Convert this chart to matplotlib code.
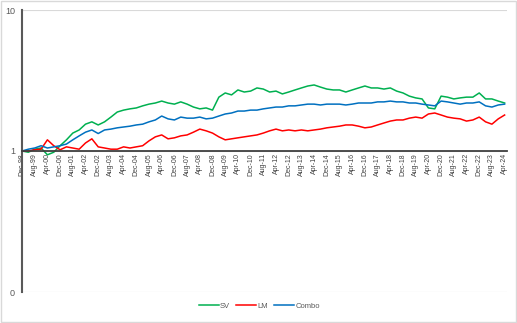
import matplotlib
matplotlib.use("Agg")
import matplotlib.pyplot as plt
from matplotlib.patches import Rectangle
from matplotlib.ticker import FixedLocator, FixedFormatter, NullLocator
import numpy as np

# values read every 4 months, Dec-98 .. Apr-24
sv = [1.00, 0.98, 1.03, 1.05, 0.94, 0.98, 1.09, 1.20, 1.34, 1.41,
      1.55, 1.61, 1.53, 1.61, 1.74, 1.89, 1.95, 1.99, 2.02, 2.09,
      2.15, 2.19, 2.26, 2.19, 2.15, 2.23, 2.15, 2.05, 1.99, 2.02,
      1.95, 2.41, 2.58, 2.50, 2.71, 2.62, 2.66, 2.80, 2.75, 2.62,
      2.66, 2.54, 2.62, 2.71, 2.80, 2.89, 2.94, 2.84, 2.75, 2.71,
      2.71, 2.62, 2.71, 2.80, 2.89, 2.80, 2.80, 2.75, 2.80, 2.66,
      2.58, 2.45, 2.38, 2.34, 2.02, 1.99, 2.45, 2.41, 2.34, 2.38,
      2.41, 2.41, 2.58, 2.34, 2.34, 2.26, 2.19]
lm = [1.00, 1.00, 1.02, 1.03, 1.20, 1.09, 1.02, 1.07, 1.05, 1.03,
      1.14, 1.22, 1.07, 1.05, 1.03, 1.03, 1.07, 1.05, 1.07, 1.09,
      1.18, 1.26, 1.30, 1.22, 1.24, 1.28, 1.30, 1.36, 1.43, 1.39,
      1.34, 1.26, 1.20, 1.22, 1.24, 1.26, 1.28, 1.30, 1.34, 1.39,
      1.43, 1.39, 1.41, 1.39, 1.41, 1.39, 1.41, 1.43, 1.46, 1.48,
      1.50, 1.53, 1.53, 1.50, 1.46, 1.48, 1.53, 1.58, 1.63, 1.66,
      1.66, 1.71, 1.74, 1.71, 1.83, 1.86, 1.80, 1.74, 1.71, 1.69,
      1.63, 1.66, 1.74, 1.61, 1.55, 1.69, 1.80]
combo = [1.00, 1.03, 1.05, 1.09, 1.05, 1.07, 1.09, 1.12, 1.20, 1.28,
         1.36, 1.41, 1.33, 1.41, 1.43, 1.46, 1.48, 1.50, 1.53, 1.55,
         1.61, 1.66, 1.77, 1.69, 1.66, 1.74, 1.71, 1.71, 1.74, 1.69,
         1.71, 1.77, 1.83, 1.86, 1.92, 1.92, 1.95, 1.95, 1.99, 2.02,
         2.05, 2.05, 2.09, 2.09, 2.12, 2.15, 2.15, 2.12, 2.15, 2.15,
         2.15, 2.12, 2.15, 2.19, 2.19, 2.19, 2.23, 2.23, 2.26, 2.23,
         2.23, 2.19, 2.19, 2.15, 2.12, 2.09, 2.26, 2.23, 2.19, 2.15,
         2.19, 2.19, 2.23, 2.09, 2.05, 2.12, 2.15]

tick_labels = ["Dec-98", "Aug-99", "Apr-00", "Dec-00", "Aug-01", "Apr-02", "Dec-02",
               "Aug-03", "Apr-04", "Dec-04", "Aug-05", "Apr-06", "Dec-06", "Aug-07",
               "Apr-08", "Dec-08", "Aug-09", "Apr-10", "Dec-10", "Aug-11", "Apr-12",
               "Dec-12", "Aug-13", "Apr-14", "Dec-14", "Aug-15", "Apr-16", "Dec-16",
               "Aug-17", "Apr-18", "Dec-18", "Aug-19", "Apr-20", "Dec-20", "Aug-21",
               "Apr-22", "Dec-22", "Aug-23", "Apr-24"]

x = np.arange(len(sv)) * 4  # month index from Dec-98

plt.rcParams['font.family'] = ['Liberation Sans', 'DejaVu Sans']

fig = plt.figure(figsize=(5.17, 3.23), dpi=100)
ax = fig.add_axes([22 / 517, 1 - 292 / 323, 485 / 517, 282 / 323])

ax.plot(x, sv, color='#00B050', lw=1.1, label='SV')
ax.plot(x, lm, color='#FF0000', lw=1.1, label='LM')
ax.plot(x, combo, color='#0070C0', lw=1.1, label='Combo')

ax.set_yscale('log')
ax.set_ylim(0.1, 10)

# spine position first: it resets tick settings
for s in ['top', 'right']:
    ax.spines[s].set_visible(False)
ax.spines['bottom'].set_position(('data', 1))
ax.spines['bottom'].set_color('#404040')
ax.spines['bottom'].set_linewidth(1.3)
ax.spines['left'].set_color('#595959')
ax.spines['left'].set_linewidth(1.5)

ax.yaxis.set_major_locator(FixedLocator([0.1, 1, 10]))
ax.yaxis.set_major_formatter(FixedFormatter(['0', '1', '10']))
ax.yaxis.set_minor_locator(NullLocator())
ax.set_xlim(0, 305.5)
ax.set_xticks(np.arange(len(tick_labels)) * 8)
ax.set_xticklabels(tick_labels, rotation=90, fontsize=5, color='#404040')
ax.tick_params(axis='x', length=0, pad=1.5)
ax.tick_params(axis='y', length=0, pad=5, labelsize=6.5, labelcolor='#595959')

ax.grid(axis='y', color='#D9D9D9', lw=0.8)
ax.set_axisbelow(True)

fig.legend(loc='center', bbox_to_anchor=(0.502, 0.053), ncol=3, frameon=False,
           fontsize=5.5, handlelength=2.6, columnspacing=0.8, handletextpad=0.2,
           labelcolor='#595959')

fig.add_artist(Rectangle((0.001, 0.002), 0.997, 0.996, transform=fig.transFigure,
                         fill=False, edgecolor='#D9D9D9', lw=1))

fig.savefig('out.png', dpi=100)
